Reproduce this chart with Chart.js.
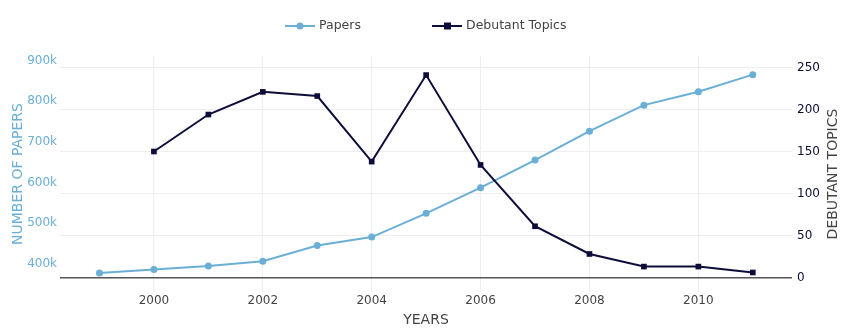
<!DOCTYPE html>
<html>
<head>
<meta charset="utf-8">
<script src="https://cdn.jsdelivr.net/npm/chart.js@4"></script>
<style>
  body { margin: 0; background: #fff; }
  #wrap { width: 843px; height: 330px; }
</style>
</head>
<body>
<div id="wrap"><canvas id="chart" width="843" height="330"></canvas></div>
<script>
const years = [1999, 2000, 2001, 2002, 2003, 2004, 2005, 2006, 2007, 2008, 2009, 2010, 2011];
const papers = [377000, 385700, 394600, 406000, 445000, 465500, 524000, 587000, 655000, 726000, 790000, 823000, 865000];
const debutantTopics = [null, 150, 194, 221, 216, 138, 241, 134, 61, 28, 13, 13, 6];
const yearTicks = [2000, 2002, 2004, 2006, 2008, 2010];
const paperTicks = [400000, 500000, 600000, 700000, 800000, 900000];
const topicTicks = [0, 50, 100, 150, 200, 250];

const blue = '#6baed6';
const navy = '#0d0d3a';
const font = 'DejaVu Sans';

// legend drawn on top like the plotly one
const topLegend = {
    id: 'topLegend',
    afterDraw(chart) {
        const ctx = chart.ctx;
        const starts = [285, 432];
        const y = 26;
        chart.data.datasets.forEach((ds, i) => {
            const x = starts[i];
            ctx.save();
            ctx.strokeStyle = ds.borderColor;
            ctx.lineWidth = 2;
            ctx.beginPath();
            ctx.moveTo(x, y);
            ctx.lineTo(x + 30, y);
            ctx.stroke();
            ctx.fillStyle = ds.borderColor;
            if (ds.pointStyle === 'rect') {
                ctx.fillRect(x + 12, y - 3.5, 7, 7);
            } else {
                ctx.beginPath();
                ctx.arc(x + 15, y, 3.5, 0, Math.PI * 2);
                ctx.fill();
            }
            ctx.fillStyle = '#444';
            ctx.font = '12.5px "' + font + '"';
            ctx.textBaseline = 'middle';
            ctx.fillText(ds.label, x + 34, y);
            ctx.restore();
        });
    }
};

// right axis title reads bottom-to-top, chart.js would turn it the other way
const rightTitle = {
    id: 'rightTitle',
    afterDraw(chart) {
        const ctx = chart.ctx;
        const area = chart.chartArea;
        ctx.save();
        ctx.translate(833, (area.top + area.bottom) / 2);
        ctx.rotate(-Math.PI / 2);
        ctx.fillStyle = '#444';
        ctx.font = '14px "' + font + '"';
        ctx.textAlign = 'center';
        ctx.textBaseline = 'middle';
        ctx.fillText('DEBUTANT TOPICS', 0, 0);
        ctx.restore();
    }
};

const ctx = document.getElementById('chart').getContext('2d');
new Chart(ctx, {
    type: 'line',
    data: {
        datasets: [
            {
                label: 'Papers',
                data: years.map((yr, i) => ({x: yr, y: papers[i]})),
                yAxisID: 'y',
                borderColor: blue,
                backgroundColor: blue,
                borderWidth: 2,
                pointStyle: 'circle',
                pointRadius: 3.5,
                pointBorderWidth: 0,
                order: 1,
            },
            {
                label: 'Debutant Topics',
                data: years.map((yr, i) => ({x: yr, y: debutantTopics[i]})),
                yAxisID: 'y1',
                borderColor: navy,
                backgroundColor: navy,
                borderWidth: 2,
                pointStyle: 'rect',
                pointRadius: 4,
                pointBorderWidth: 0,
                order: 0,
            },
        ],
    },
    options: {
        responsive: false,
        animation: false,
        devicePixelRatio: 1,
        layout: { padding: { top: 56, left: 0, right: 0, bottom: 0 } },
        plugins: {
            legend: { display: false },
            tooltip: { enabled: false },
        },
        scales: {
            x: {
                type: 'linear',
                min: 1998.275,
                max: 2011.72,
                afterBuildTicks: scale => { scale.ticks = yearTicks.map(v => ({value: v})); },
                afterFit: scale => { scale.height = 38; },
                grid: { color: '#eeeeee', lineWidth: 1, drawTicks: false },
                border: { display: false },
                ticks: {
                    color: '#444',
                    font: { family: font, size: 12 },
                    padding: 2,
                    maxRotation: 0,
                    callback: v => String(v),
                },
                title: {
                    display: true,
                    text: 'YEARS',
                    color: '#444',
                    font: { family: font, size: 14 },
                    padding: { top: 0, bottom: 1 },
                },
            },
            y: {
                position: 'left',
                min: 330500,
                max: 910800,
                afterBuildTicks: scale => { scale.ticks = paperTicks.map(v => ({value: v})); },
                afterFit: scale => { scale.width = 60; },
                grid: { display: false, drawTicks: false },
                border: { display: false },
                ticks: {
                    color: blue,
                    font: { family: font, size: 12 },
                    padding: 3,
                    callback: v => (v / 1000) + 'k',
                },
                title: {
                    display: true,
                    text: 'NUMBER OF PAPERS',
                    color: blue,
                    font: { family: font, size: 14 },
                    padding: { top: 10, bottom: 0 },
                },
            },
            y1: {
                position: 'right',
                min: -17.26,
                max: 263.7,
                afterBuildTicks: scale => { scale.ticks = topicTicks.map(v => ({value: v})); },
                afterFit: scale => { scale.width = 51; },
                grid: {
                    drawTicks: false,
                    color: c => c.tick && c.tick.value === 0 ? '#555' : '#eeeeee',
                    lineWidth: c => c.tick && c.tick.value === 0 ? 1.5 : 1,
                },
                border: { display: false },
                ticks: {
                    color: navy,
                    font: { family: font, size: 12 },
                    padding: 5,
                },
                title: { display: false },
            },
        },
    },
    plugins: [topLegend, rightTitle],
});
</script>
</body>
</html>
